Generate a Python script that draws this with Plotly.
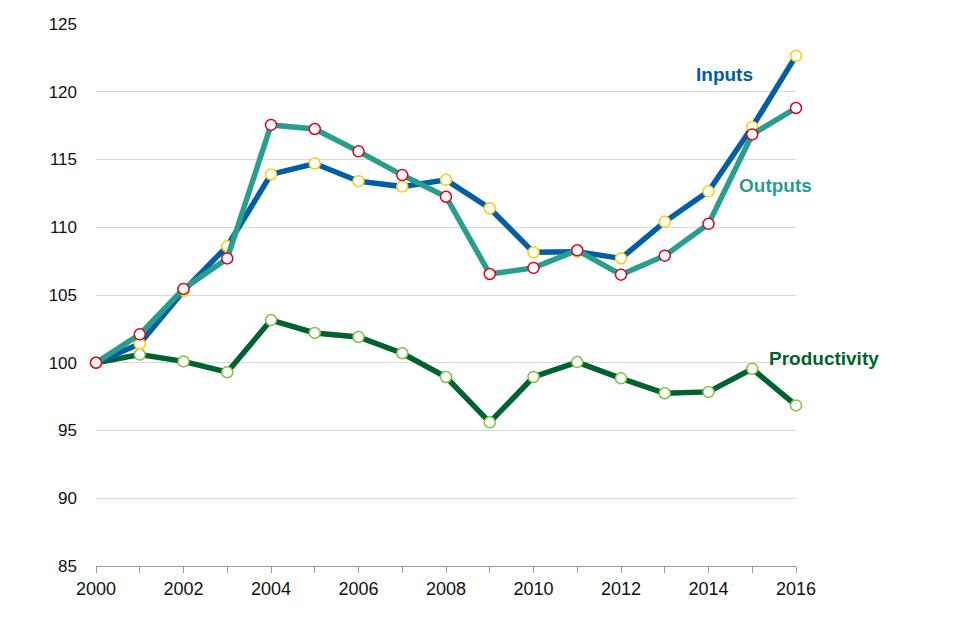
import plotly.graph_objects as go

years = list(range(2000, 2017))
inputs = [100.0, 101.4, 105.3, 108.6, 113.9, 114.7, 113.4, 113.0, 113.5, 111.4,
          108.15, 108.2, 107.7, 110.4, 112.65, 117.4, 122.65]
outputs = [100.0, 102.1, 105.45, 107.7, 117.55, 117.25, 115.6, 113.85, 112.25, 106.55,
           107.0, 108.3, 106.5, 107.9, 110.25, 116.85, 118.8]
productivity = [100.0, 100.6, 100.1, 99.3, 103.15, 102.2, 101.9, 100.7, 98.95, 95.6,
                98.95, 100.05, 98.85, 97.75, 97.85, 99.55, 96.85]

y_ticks = [85, 90, 95, 100, 105, 110, 115, 120, 125]

C_IN = "#005DA6"
C_OUT = "#279E8E"
C_PROD = "#00622E"

FONT = "Liberation Sans, Arial, sans-serif"

fig = go.Figure()

def add(name, vals, color, mcolor):
    fig.add_trace(go.Scatter(
        x=years, y=vals, name=name, mode="lines+markers",
        line=dict(color=color, width=5.5),
        marker=dict(size=11, color="white", line=dict(color=mcolor, width=1.5)),
        cliponaxis=False, showlegend=False,
    ))

add("Productivity", productivity, C_PROD, "#7DC242")
add("Inputs", inputs, C_IN, "#FFCC00")
add("Outputs", outputs, C_OUT, "#E2001A")

fig.add_annotation(x=2014.37, y=121.3, text="<b>Inputs</b>", showarrow=False,
                   font=dict(color=C_IN, family=FONT, size=19), xanchor="center")
fig.add_annotation(x=2015.52, y=113.05, text="<b>Outputs</b>", showarrow=False,
                   font=dict(color=C_OUT, family=FONT, size=19), xanchor="center")
fig.add_annotation(x=2015.33, y=100.3, text="<b>Productivity</b>", showarrow=False,
                   font=dict(color=C_PROD, family=FONT, size=19), xanchor="left")

fig.update_layout(
    width=960, height=640,
    margin=dict(l=88, r=172, t=16, b=82, autoexpand=False),
    paper_bgcolor="white", plot_bgcolor="white",
    font=dict(family=FONT, size=17, color="#111111"),
    xaxis=dict(
        range=[2000, 2016], tickmode="linear", tick0=2000, dtick=2,
        showgrid=False, zeroline=False, automargin=False,
        showline=True, linecolor="#999999", linewidth=1,
        ticks="outside", ticklen=6, tickcolor="#999999",
        minor=dict(dtick=1, ticks="outside", ticklen=6, tickcolor="#999999"),
        tickfont=dict(size=18),
    ),
    yaxis=dict(
        range=[85, 125], tickvals=y_ticks, automargin=False,
        showgrid=True, gridcolor="#D9D9D9", gridwidth=1,
        zeroline=False, showline=False, ticks="",
        ticklabelstandoff=18,
        tickfont=dict(size=17),
    ),
)

fig.write_html("out.html")
